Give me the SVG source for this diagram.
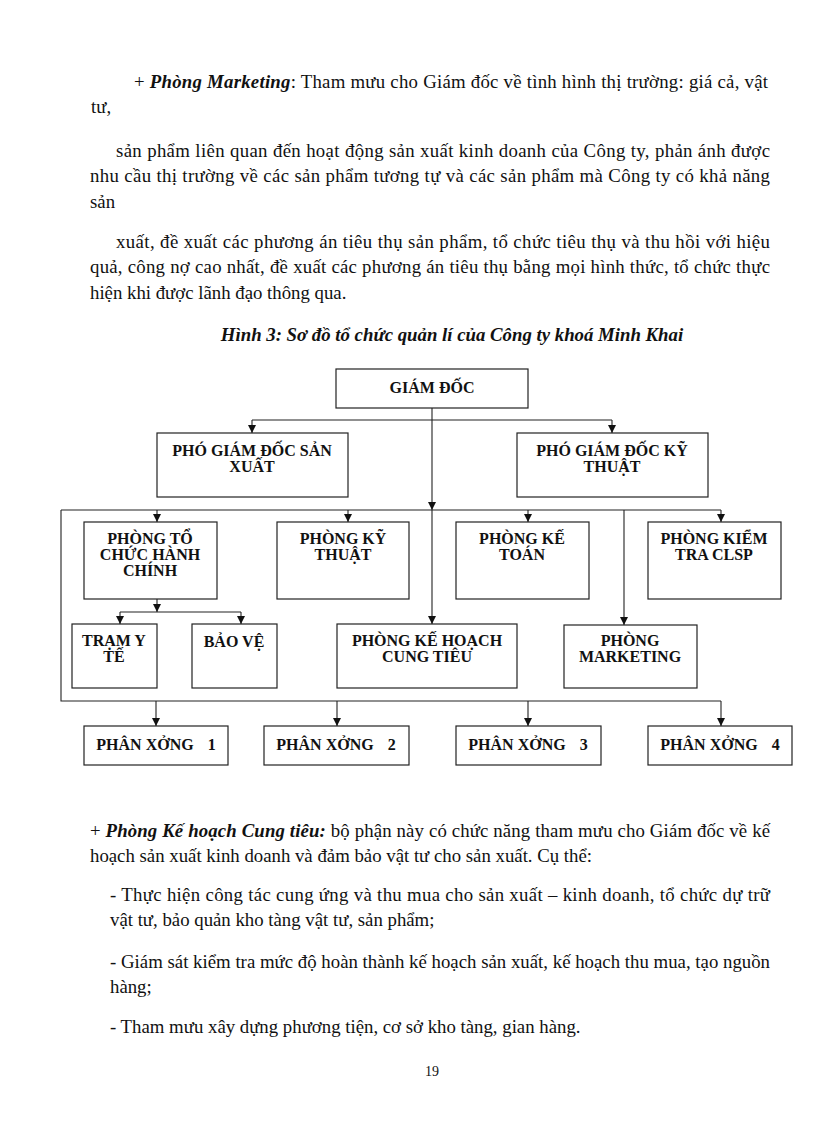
<svg xmlns="http://www.w3.org/2000/svg" width="816" height="1123" viewBox="0 0 816 1123">
<style>
.body{font-family:"Liberation Serif","Times New Roman",serif;font-size:18.8px;fill:#111}
.bi{font-weight:bold;font-style:italic}
.title{font-family:"Liberation Serif","Times New Roman",serif;font-size:18.8px;font-weight:bold;font-style:italic;fill:#111}
.pg{font-family:"Liberation Serif","Times New Roman",serif;font-size:14px;fill:#111}
.box rect{fill:#fff;stroke:#222;stroke-width:1.2}
.box text{font-family:"Liberation Serif","Times New Roman",serif;font-size:16px;font-weight:bold;fill:#111;text-anchor:middle}
.conn line,.conn polyline{stroke:#222;stroke-width:1.1;fill:none}
</style>
<defs>
<marker id="arr" viewBox="0 0 10 10" refX="10" refY="5" markerWidth="8" markerHeight="8" markerUnits="userSpaceOnUse" orient="auto">
<path d="M0,0 L10,5 L0,10 z" fill="#111"/>
</marker>
</defs>
<rect width="816" height="1123" fill="#fff"/>

<g id="text-top" class="body">
<text x="134" y="88" textLength="634" lengthAdjust="spacing">+ <tspan class="bi">Phòng Marketing</tspan>: Tham mưu cho Giám đốc về tình hình thị trường: giá cả, vật</text>
<text x="91" y="113">tư,</text>
<text x="116" y="157" textLength="654" lengthAdjust="spacing">sản phẩm liên quan đến hoạt động sản xuất kinh doanh của Công ty, phản ánh được</text>
<text x="90" y="182" textLength="680" lengthAdjust="spacing">nhu cầu thị trường về các sản phẩm tương tự và các sản phẩm mà Công ty có khả năng</text>
<text x="90" y="208">sản</text>
<text x="116" y="248" textLength="654" lengthAdjust="spacing">xuất, đề xuất các phương án tiêu thụ sản phẩm, tổ chức tiêu thụ và thu hồi với hiệu</text>
<text x="90" y="273" textLength="680" lengthAdjust="spacing">quả, công nợ cao nhất, đề xuất các phương án tiêu thụ bằng mọi hình thức, tổ chức thực</text>
<text x="90" y="299">hiện khi được lãnh đạo thông qua.</text>
</g>

<text id="caption" class="title" x="452" y="341" text-anchor="middle">Hình 3: Sơ đồ tổ chức quản lí của Công ty khoá Minh Khai</text>

<g id="connectors" class="conn">
<line x1="432" y1="408" x2="432" y2="510" marker-end="url(#arr)"/>
<line x1="432" y1="510" x2="432" y2="624" marker-end="url(#arr)"/>
<line x1="252" y1="420" x2="612" y2="420"/>
<line x1="252" y1="420" x2="252" y2="433" marker-end="url(#arr)"/>
<line x1="612" y1="420" x2="612" y2="433" marker-end="url(#arr)"/>
<line x1="61" y1="510" x2="721" y2="510"/>
<line x1="157" y1="510" x2="157" y2="522" marker-end="url(#arr)"/>
<line x1="348" y1="510" x2="348" y2="522" marker-end="url(#arr)"/>
<line x1="528" y1="510" x2="528" y2="522" marker-end="url(#arr)"/>
<line x1="721" y1="510" x2="721" y2="522" marker-end="url(#arr)"/>
<line x1="624" y1="510" x2="624" y2="625" marker-end="url(#arr)"/>
<line x1="157" y1="599" x2="157" y2="612" marker-end="url(#arr)"/>
<line x1="120" y1="612" x2="241" y2="612"/>
<line x1="120" y1="612" x2="120" y2="624" marker-end="url(#arr)"/>
<line x1="241" y1="612" x2="241" y2="624" marker-end="url(#arr)"/>
<polyline points="61,510 61,701 721,701"/>
<line x1="156" y1="701" x2="156" y2="726" marker-end="url(#arr)"/>
<line x1="337" y1="701" x2="337" y2="726" marker-end="url(#arr)"/>
<line x1="528" y1="701" x2="528" y2="726" marker-end="url(#arr)"/>
<line x1="721" y1="701" x2="721" y2="726" marker-end="url(#arr)"/>
</g>

<g id="giam-doc" class="box"><rect x="336" y="369" width="192" height="39"/><text x="432" y="393">GIÁM ĐỐC</text></g>
<g id="pgd-san-xuat" class="box"><rect x="157" y="433" width="191" height="64"/><text x="252" y="456">PHÓ GIÁM ĐỐC SẢN</text><text x="252" y="472">XUẤT</text></g>
<g id="pgd-ky-thuat" class="box"><rect x="517" y="433" width="191" height="64"/><text x="612" y="456">PHÓ GIÁM ĐỐC KỸ</text><text x="612" y="472">THUẬT</text></g>
<g id="phong-to-chuc" class="box"><rect x="84" y="522" width="133" height="77"/><text x="150" y="544">PHÒNG TỔ</text><text x="150" y="560">CHỨC HÀNH</text><text x="150" y="576">CHÍNH</text></g>
<g id="phong-ky-thuat" class="box"><rect x="277" y="522" width="132" height="77"/><text x="343" y="544">PHÒNG KỸ</text><text x="343" y="560">THUẬT</text></g>
<g id="phong-ke-toan" class="box"><rect x="456" y="522" width="133" height="77"/><text x="522" y="544">PHÒNG KẾ</text><text x="522" y="560">TOÁN</text></g>
<g id="phong-kiem-tra" class="box"><rect x="648" y="522" width="133" height="77"/><text x="714" y="544">PHÒNG KIỂM</text><text x="714" y="560">TRA  CLSP</text></g>
<g id="tram-y-te" class="box"><rect x="72" y="624" width="85" height="64"/><text x="114" y="646">TRẠM Y</text><text x="114" y="662">TẾ</text></g>
<g id="bao-ve" class="box"><rect x="192" y="624" width="85" height="64"/><text x="234" y="647">BẢO VỆ</text></g>
<g id="phong-ke-hoach" class="box"><rect x="337" y="624" width="180" height="64"/><text x="427" y="646">PHÒNG KẾ HOẠCH</text><text x="427" y="662">CUNG TIÊU</text></g>
<g id="phong-marketing" class="box"><rect x="564" y="625" width="133" height="63"/><text x="630" y="646">PHÒNG</text><text x="630" y="662">MARKETING</text></g>
<g id="phan-xuong-1" class="box"><rect x="84" y="726" width="144" height="39"/><text x="156" y="750">PHÂN XỞNG<tspan dx="14">1</tspan></text></g>
<g id="phan-xuong-2" class="box"><rect x="264" y="726" width="145" height="39"/><text x="336" y="750">PHÂN XỞNG<tspan dx="14">2</tspan></text></g>
<g id="phan-xuong-3" class="box"><rect x="456" y="726" width="145" height="39"/><text x="528" y="750">PHÂN XỞNG<tspan dx="14">3</tspan></text></g>
<g id="phan-xuong-4" class="box"><rect x="648" y="726" width="144" height="39"/><text x="720" y="750">PHÂN XỞNG<tspan dx="14">4</tspan></text></g>

<g id="text-bottom" class="body">
<text x="90" y="837" textLength="680" lengthAdjust="spacing">+ <tspan class="bi">Phòng Kế hoạch Cung tiêu:</tspan> bộ phận này có chức năng tham mưu cho Giám đốc về kế</text>
<text x="90" y="862">hoạch sản xuất kinh doanh và đảm bảo vật tư cho sản xuất.  Cụ thể:</text>
<text x="110" y="901" textLength="660" lengthAdjust="spacing">- Thực hiện  công tác cung ứng và thu mua cho sản xuất – kinh  doanh, tổ chức dự trữ</text>
<text x="110" y="926">vật tư, bảo quản kho tàng vật tư, sản phẩm;</text>
<text x="110" y="968" textLength="660" lengthAdjust="spacing">- Giám sát kiểm tra mức độ hoàn thành kế hoạch sản xuất, kế hoạch thu mua, tạo nguồn</text>
<text x="110" y="993">hàng;</text>
<text x="110" y="1033">- Tham mưu xây dựng phương tiện,  cơ sở kho tàng, gian hàng.</text>
</g>
<text id="page-number" class="pg" x="432" y="1076" text-anchor="middle">19</text>
</svg>
